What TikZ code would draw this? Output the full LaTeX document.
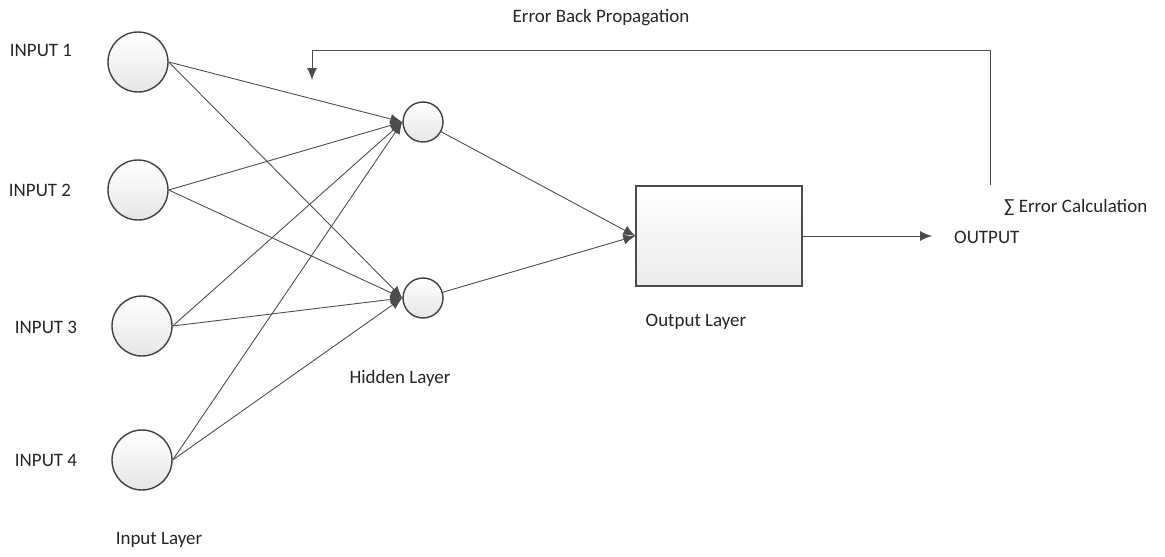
\documentclass[tikz,border=0pt]{standalone}
\usepackage{fontspec}
\setmainfont{Carlito}
\usetikzlibrary{arrows.meta,positioning}

\begin{document}
\begin{tikzpicture}[x=0.02cm,y=-0.02cm,
	inputnode/.style={circle, draw=black!75, top color=white, bottom color=black!10, thick, minimum size=1.2cm},
	hiddennode/.style={circle, draw=black!75, top color=white, bottom color=black!10, thick, minimum size=0.8cm},
	outbox/.style={rectangle, draw=black!70, top color=white, bottom color=black!8, thick, minimum width=3.32cm, minimum height=2cm},
	txt/.style={font=\fontsize{10.8}{12}\selectfont, text=black!85},
	link/.style={draw=black!70, line width=0.5pt, -{Latex[length=2.4mm,width=2mm]}}
	]
	\useasboundingbox (0,0) rectangle (1165,557);
	%Nodes
	\node[inputnode](In1) at (138,62) {};
	\node[inputnode](In2) at (138,190) {};
	\node[inputnode](In3) at (142,326) {};
	\node[inputnode](In4) at (142,460) {};
	\node[hiddennode](Hid1) at (423,122) {};
	\node[hiddennode](Hid2) at (423,298) {};
	\node[outbox](Out) at (719,236) {};
	\coordinate (OutEnd) at (932,236);
	\coordinate (ErrStart) at (990,185);
	\coordinate (ErrEnd) at (312,80);
	%Labels
	\node[txt] (LIn1) at (41,50) {INPUT 1};
	\node[txt] (LIn2) at (40,190) {INPUT 2};
	\node[txt] (LIn3) at (46,327) {INPUT 3};
	\node[txt] (LIn4) at (46,460) {INPUT 4};
	\node[txt] (LInLayer) at (159,540) {Input Layer};
	\node[txt] (LHidLayer) at (400,378) {Hidden Layer};
	\node[txt] (LOutLayer) at (696,322) {Output Layer};
	\node[txt, anchor=west] (LOutput) at (948,237) {OUTPUT};
	\node[txt, anchor=west] (LErrCalc) at (998,207) {∑ Error Calculation};
	\node[txt] (LBackProp) at (601,18) {Error Back Propagation};
	%Lines
	\foreach \i in {1,...,4}
	{
		\draw[link] (In\i.east) -- (Hid1.west);
		\draw[link] (In\i.east) -- (Hid2.west);
	}
	\draw[link] (Hid1) -- (Out.west);
	\draw[link] (Hid2) -- (Out.west);
	\draw[link] (Out.east) -- (OutEnd);
	\draw[link] (ErrStart) |- (312,50) -- (ErrEnd);
\end{tikzpicture}
\end{document}
